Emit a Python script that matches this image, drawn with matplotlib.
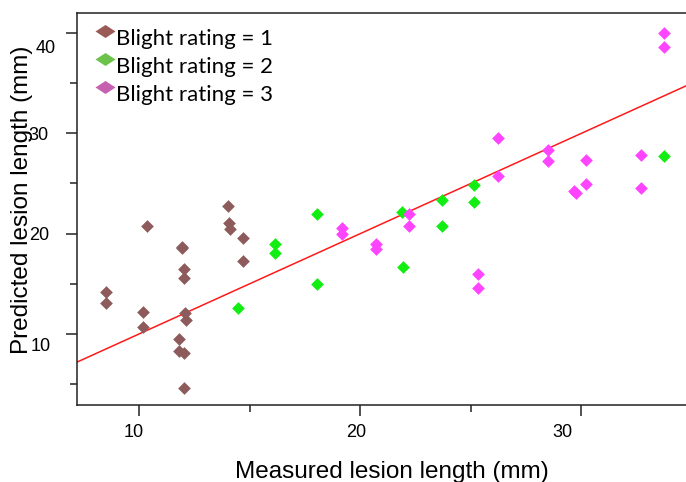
import matplotlib
matplotlib.use("Agg")
import matplotlib.pyplot as plt
import matplotlib.transforms as mtransforms
from matplotlib.lines import Line2D
from matplotlib.ticker import FixedLocator

# measured vs predicted lesion length, split by blight rating
rating1_x = [8.49, 8.49, 10.35, 10.19, 10.19, 11.93, 11.96, 12.03, 12.03, 12.08,
             12.11, 11.82, 11.82, 12.05, 12.03, 14.02, 14.07, 14.10, 14.69, 14.69]
rating1_y = [14.15, 13.05, 20.78, 12.16, 10.73, 18.70, 18.55, 16.44, 15.60, 12.06,
             11.39, 9.47, 8.34, 8.14, 4.66, 22.74, 21.08, 20.45, 19.52, 17.29]

rating2_x = [14.49, 16.13, 16.13, 18.03, 18.03, 21.90, 21.92, 23.71, 23.71, 25.14,
             25.14, 33.73]
rating2_y = [12.62, 18.96, 18.03, 21.94, 14.94, 22.17, 16.70, 23.33, 20.75, 24.83,
             23.13, 27.71]

rating3_x = [19.19, 19.19, 20.70, 20.70, 22.21, 22.21, 25.34, 25.34, 26.23, 26.23,
             28.48, 28.48, 29.65, 29.76, 30.19, 30.19, 32.71, 32.71, 33.73, 33.73]
rating3_y = [20.52, 19.95, 18.96, 18.43, 21.94, 20.75, 15.97, 14.61, 29.50, 25.75,
             28.38, 27.25, 24.25, 24.05, 27.38, 24.90, 27.81, 24.56, 39.98, 38.63]

legend_labels = ["Blight rating = 1", "Blight rating = 2", "Blight rating = 3"]
x_major = [10, 20, 30]
x_minor = [15, 25]
y_major = [10, 20, 30, 40]
y_minor = [5, 15, 25, 35]

# 1:1 reference line
fit_slope = 1.0
fit_intercept = 0.0

plt.rcParams["font.family"] = ["Liberation Sans", "DejaVu Sans"]

fig = plt.figure(figsize=(6.86, 4.82), dpi=100)
ax = fig.add_axes([0.1118, 0.1598, 0.8882, 0.8133])

xlim = (7.18, 34.73)
ylim = (2.92, 42.0)
ax.set_xlim(*xlim)
ax.set_ylim(*ylim)

ax.plot(xlim, [fit_intercept + fit_slope * v for v in xlim], color="#ff1a1a",
        lw=1.1, zorder=1)

ax.scatter(rating1_x, rating1_y, marker="D", s=42, color="#8d5b5b", lw=0, zorder=2)
ax.scatter(rating2_x, rating2_y, marker="D", s=42, color="#12ee12", lw=0, zorder=2)
ax.scatter(rating3_x, rating3_y, marker="D", s=42, color="#ff44ff", lw=0, zorder=2)

# flat diamonds, lifted a little, for the legend keys
key = [(-1, 0.6), (0, 1.25), (1, 0.6), (0, -0.05), (-1, 0.6)]
handles = [Line2D([], [], ls="none", marker=key, markersize=18, color=c, mew=0)
           for c in ["#9a5a55", "#6cc24a", "#c660b0"]]
ax.legend(handles, legend_labels, loc="upper left", bbox_to_anchor=(0.030, 0.960),
          frameon=False, borderaxespad=0, borderpad=0, handlelength=0.9,
          handletextpad=0.05, labelspacing=0.37,
          prop={"family": "Lato", "size": 16})

ax.xaxis.set_major_locator(FixedLocator(x_major))
ax.xaxis.set_minor_locator(FixedLocator(x_minor))
ax.yaxis.set_major_locator(FixedLocator(y_major))
ax.yaxis.set_minor_locator(FixedLocator(y_minor))
ax.tick_params(which="major", direction="out", length=8, width=1.1, labelsize=13,
               color="#222222")
ax.tick_params(which="minor", direction="out", length=5, width=1.1, color="#222222")
ax.tick_params(axis="x", which="major", pad=6)
ax.tick_params(axis="y", which="major", pad=12)

ax.spines["right"].set_visible(False)
for side in ["left", "bottom", "top"]:
    ax.spines[side].set_linewidth(1.1)
    ax.spines[side].set_color("#222222")

ax.set_xlabel("Measured lesion length (mm)", fontsize=17.5, va="baseline")
ax.xaxis.set_label_coords(0.5175, -0.186)
ax.set_ylabel("Predicted lesion length (mm)", fontsize=17.5, va="center")
ax.yaxis.set_label_coords(-0.089, 0.523)

fig.canvas.draw()

# nudge a few tick labels into their hand-placed spots (pixels)
x_shift = {10: (-5, 0), 20: (-4, 0), 30: (-19, 0)}
y_shift = {40: (7, -13), 10: (2, -11)}
for tick in ax.xaxis.get_major_ticks():
    dx, dy = x_shift.get(round(tick.get_loc()), (0, 0))
    tick.label1.set_transform(tick.label1.get_transform() +
                              mtransforms.ScaledTranslation(dx / 100, dy / 100, fig.dpi_scale_trans))
for tick in ax.yaxis.get_major_ticks():
    dx, dy = y_shift.get(round(tick.get_loc()), (0, 0))
    tick.label1.set_transform(tick.label1.get_transform() +
                              mtransforms.ScaledTranslation(dx / 100, dy / 100, fig.dpi_scale_trans))

fig.savefig("out.png", dpi=100)
